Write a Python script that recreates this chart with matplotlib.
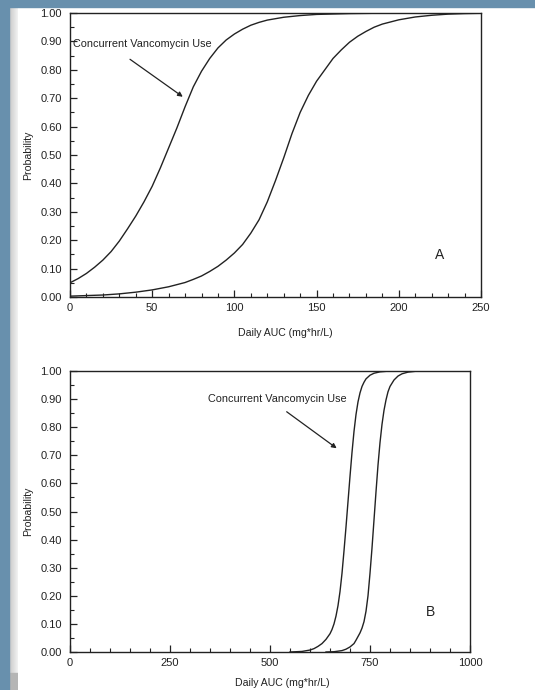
import numpy as np
import matplotlib
matplotlib.use("Agg")
import matplotlib.pyplot as plt
from matplotlib.patches import Rectangle
from matplotlib.ticker import MultipleLocator, FormatStrFormatter

plt.rcParams['font.family'] = ['Liberation Sans', 'DejaVu Sans']

# Panel A: probability vs daily AUC (0-250)
auc_a_vanc = [0, 5, 10, 15, 20, 25, 30, 35, 40, 45, 50, 55, 60, 65, 70, 75, 80,
              85, 90, 95, 100, 105, 110, 115, 120, 130, 140, 150, 170, 200, 250]
prob_a_vanc = [0.05, 0.065, 0.083, 0.105, 0.13, 0.16, 0.197, 0.24, 0.285, 0.335,
               0.39, 0.455, 0.525, 0.595, 0.67, 0.74, 0.795, 0.84, 0.877, 0.905,
               0.926, 0.943, 0.957, 0.967, 0.975, 0.985, 0.991, 0.995, 0.998,
               1.0, 1.0]

auc_a_none = [0, 10, 20, 30, 40, 50, 60, 70, 75, 80, 85, 90, 95, 100, 105, 110,
              115, 120, 125, 130, 135, 140, 145, 150, 155, 160, 165, 170, 175,
              180, 185, 190, 200, 210, 220, 230, 240, 250]
prob_a_none = [0.003, 0.005, 0.007, 0.011, 0.017, 0.025, 0.036, 0.051, 0.062,
               0.074, 0.09, 0.108, 0.13, 0.155, 0.185, 0.225, 0.272, 0.335,
               0.41, 0.49, 0.575, 0.65, 0.71, 0.76, 0.80, 0.84, 0.87, 0.897,
               0.918, 0.935, 0.95, 0.961, 0.976, 0.986, 0.992, 0.996, 0.998,
               0.999]

# Panel B: probability vs daily AUC (0-1000)
auc_b_vanc = [550, 580, 600, 610, 620, 630, 640, 650, 655, 660, 665, 670, 675,
              680, 685, 690, 695, 700, 705, 710, 715, 720, 725, 730, 735, 740,
              750, 760, 775, 800, 1000]
prob_b_vanc = [0.0, 0.002, 0.007, 0.012, 0.02, 0.03, 0.045, 0.065, 0.08, 0.10,
               0.128, 0.165, 0.215, 0.28, 0.36, 0.445, 0.535, 0.625, 0.71,
               0.785, 0.845, 0.89, 0.922, 0.945, 0.96, 0.972, 0.985, 0.992,
               0.997, 1.0, 1.0]

auc_b_none = [640, 660, 680, 690, 700, 710, 715, 720, 725, 730, 735, 740, 745,
              750, 755, 760, 765, 770, 775, 780, 785, 790, 795, 800, 810, 820,
              830, 845, 870, 1000]
prob_b_none = [0.0, 0.001, 0.005, 0.01, 0.018, 0.03, 0.042, 0.055, 0.068, 0.085,
               0.108, 0.145, 0.20, 0.28, 0.37, 0.47, 0.57, 0.665, 0.745, 0.81,
               0.86, 0.897, 0.926, 0.945, 0.968, 0.982, 0.99, 0.996, 1.0, 1.0]

ink = '#222222'
blue = '#6890ad'

fig = plt.figure(figsize=(5.35, 6.9), dpi=100)
W, H = 535.0, 690.0

# window chrome: blue bars and a grey gradient strip
fig.patches.append(Rectangle((0, 1 - 7 / H), 1, 7 / H, transform=fig.transFigure,
                             color=blue, zorder=0))
fig.patches.append(Rectangle((0, 0), 9 / W, 1, transform=fig.transFigure,
                             color=blue, zorder=0))
strip = fig.add_axes([9 / W, 0, 9 / W, 1 - 7 / H])
grad = np.linspace(0.78, 0.95, 40).reshape(1, -1)
strip.imshow(np.repeat(grad, 10, axis=0), cmap='gray', vmin=0, vmax=1,
             aspect='auto', extent=[0, 1, 0, 1])
strip.add_patch(Rectangle((0, 0), 1, 17 / H, color='#b5b5b5'))
strip.axis('off')


def style_axes(ax, xmax, xmajor, xminor):
    ax.set_xlim(0, xmax)
    ax.set_ylim(0, 1.0)
    ax.xaxis.set_major_locator(MultipleLocator(xmajor))
    ax.xaxis.set_minor_locator(MultipleLocator(xminor))
    ax.yaxis.set_major_locator(MultipleLocator(0.1))
    ax.yaxis.set_minor_locator(MultipleLocator(0.05))
    ax.yaxis.set_major_formatter(FormatStrFormatter('%.2f'))
    ax.tick_params(which='major', direction='in', length=5, width=0.9,
                   color=ink, labelsize=8, labelcolor=ink)
    ax.tick_params(which='minor', direction='in', length=3, width=0.8, color=ink)
    ax.tick_params(axis='y', which='both', left=True, right=False, pad=6)
    ax.tick_params(axis='x', which='both', bottom=True, top=False, pad=4)
    for sp in ax.spines.values():
        sp.set_color(ink)
        sp.set_linewidth(1.0)
    ax.set_ylabel('Probability', fontsize=7.6, color=ink)


# panel A
axA = fig.add_axes([70 / W, 393 / H, 411 / W, 284 / H])
style_axes(axA, 250, 50, 10)
axA.plot(auc_a_vanc, prob_a_vanc, color=ink, lw=1.0)
axA.plot(auc_a_none, prob_a_none, color=ink, lw=1.0)
axA.set_xlabel('Daily AUC (mg*hr/L)', fontsize=7.6, color=ink)
axA.xaxis.set_label_coords(0.523, -0.108)
axA.yaxis.set_label_coords(-0.09, 0.5)
axA.text(2, 0.89, 'Concurrent Vancomycin Use', fontsize=7.8, color=ink,
         va='center', ha='left')
axA.annotate('', xy=(68.6, 0.705), xytext=(36.5, 0.837),
             arrowprops=dict(arrowstyle='-|>', lw=0.9, color=ink,
                             mutation_scale=7, shrinkA=0, shrinkB=0))
axA.text(225, 0.148, 'A', fontsize=10, color=ink, ha='center', va='center')

# panel B
axB = fig.add_axes([70 / W, 38 / H, 400 / W, 281 / H])
style_axes(axB, 1000, 250, 50)
axB.plot(auc_b_vanc, prob_b_vanc, color=ink, lw=1.0)
axB.plot(auc_b_none, prob_b_none, color=ink, lw=1.0)
axB.set_xlabel('Daily AUC (mg*hr/L)', fontsize=7.6, color=ink)
axB.xaxis.set_label_coords(0.53, -0.093)
axB.yaxis.set_label_coords(-0.0925, 0.5)
axB.text(519, 0.90, 'Concurrent Vancomycin Use', fontsize=7.8, color=ink,
         va='center', ha='center')
axB.annotate('', xy=(666.7, 0.725), xytext=(541.7, 0.855),
             arrowprops=dict(arrowstyle='-|>', lw=0.9, color=ink,
                             mutation_scale=7, shrinkA=0, shrinkB=0))
axB.text(902, 0.143, 'B', fontsize=10, color=ink, ha='center', va='center',
         family=['Liberation Sans Narrow', 'Liberation Sans'])

fig.savefig('out.png', dpi=100)
